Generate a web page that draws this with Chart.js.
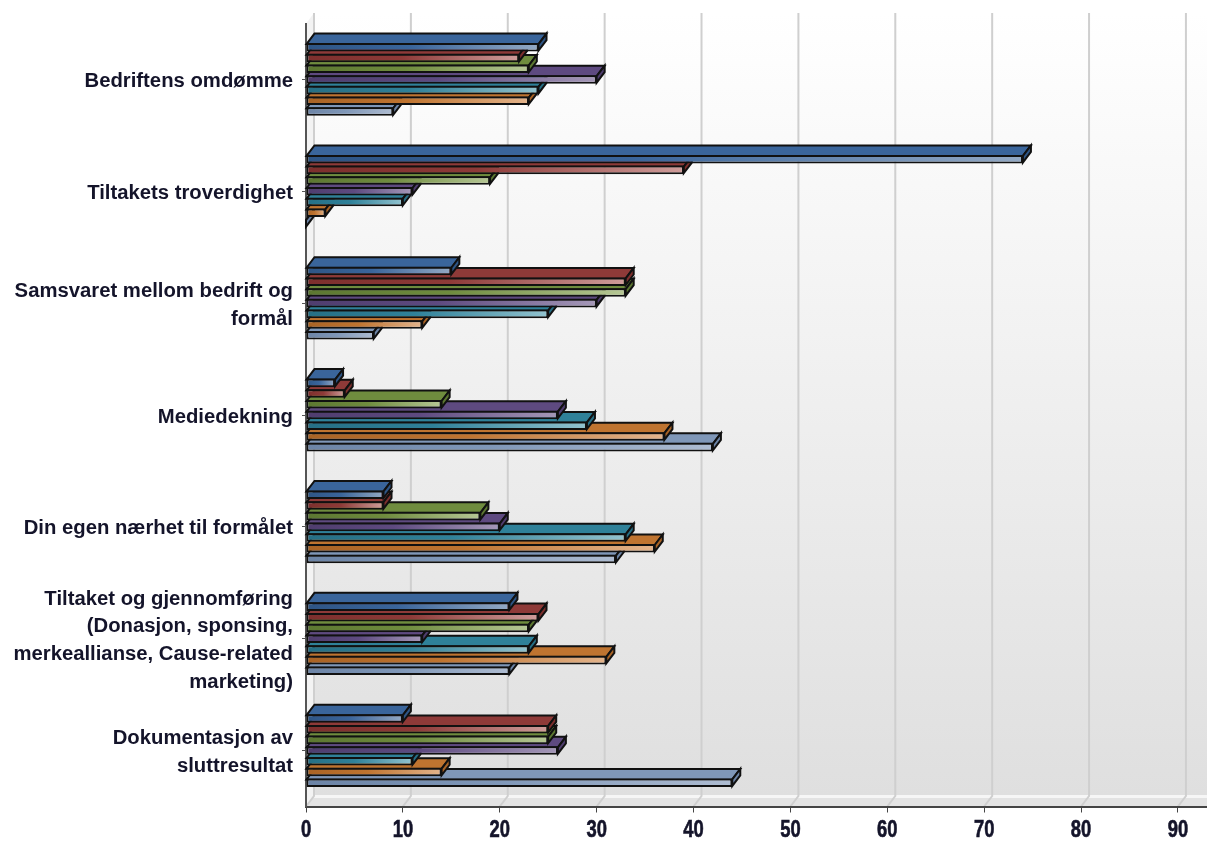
<!DOCTYPE html>
<html>
<head>
<meta charset="utf-8">
<title>Bedriftens omdømme</title>
<script src="https://cdn.jsdelivr.net/npm/chart.js@4/dist/chart.umd.js"></script>
<style>
  html, body { margin: 0; padding: 0; background: #fff; }
  canvas { display: block; }
</style>
</head>
<body>
<canvas id="chart" width="1207" height="841"></canvas>
<script>
const categories = [
    'Bedriftens omdømme',
    'Tiltakets troverdighet',
    ['Samsvaret mellom bedrift og', 'formål'],
    'Mediedekning',
    'Din egen nærhet til formålet',
    ['Tiltaket og gjennomføring', '(Donasjon, sponsing,', 'merkeallianse, Cause-related', 'marketing)'],
    ['Dokumentasjon av', 'sluttresultat'],
];

const serie1 = [24, 74, 15, 3, 8, 21, 10];
const serie2 = [22, 39, 33, 4, 8, 24, 25];
const serie3 = [23, 19, 33, 14, 18, 23, 25];
const serie4 = [30, 11, 30, 26, 20, 12, 26];
const serie5 = [24, 10, 25, 29, 33, 23, 11];
const serie6 = [23, 2, 12, 37, 36, 31, 14];
const serie7 = [9, 0, 7, 42, 32, 21, 44];

const allSeries = [serie1, serie2, serie3, serie4, serie5, serie6, serie7];
const faceColors = ['#3a659b', '#8e3a38', '#6f8c3e', '#5e4a80', '#2f8199', '#bf7430', '#7f97b8'];
const darkColors = ['#2e5585', '#7d2f2d', '#5c7731', '#4f3d6e', '#266f85', '#a96325', '#6c84a6'];
const lightColors = ['#93a9c4', '#cf9d9b', '#b6c795', '#a598b8', '#92c3cf', '#e3b48c', '#aebcd1'];

// depth of the fake 3d box, in px
const DEPTH_X = 8;
const DEPTH_Y = 10.5;

// area sizes that the axes are forced to
const AXIS_LEFT = 306;
const AXIS_BOTTOM = 34.5;
const TOP_PAD = 23.5;

const walls = {
    id: 'walls',
    beforeDraw(chart) {
        const { ctx, chartArea: a, scales: { x } } = chart;
        const backTop = a.top - DEPTH_Y;
        const backBottom = a.bottom - DEPTH_Y;
        const backLeft = a.left + DEPTH_X;
        ctx.save();

        const wall = ctx.createLinearGradient(0, backTop, 0, backBottom);
        wall.addColorStop(0, '#ffffff');
        wall.addColorStop(1, '#dfdfdf');
        ctx.fillStyle = wall;
        ctx.fillRect(backLeft, backTop, a.right - backLeft, backBottom - backTop);

        // left side wall
        ctx.fillStyle = '#f3f3f3';
        ctx.beginPath();
        ctx.moveTo(a.left, a.top);
        ctx.lineTo(backLeft, backTop);
        ctx.lineTo(backLeft, backBottom);
        ctx.lineTo(a.left, a.bottom);
        ctx.closePath();
        ctx.fill();

        // floor
        ctx.fillStyle = '#e3e3e3';
        ctx.beginPath();
        ctx.moveTo(a.left, a.bottom);
        ctx.lineTo(backLeft, backBottom);
        ctx.lineTo(a.right, backBottom);
        ctx.lineTo(a.right, a.bottom);
        ctx.closePath();
        ctx.fill();
        ctx.fillStyle = '#f6f6f6';
        ctx.fillRect(backLeft, backBottom - 1, a.right - backLeft, 3);

        // grid runs up the back wall and slants across the floor
        ctx.strokeStyle = '#cfcfcf';
        ctx.lineWidth = 2;
        x.ticks.forEach(t => {
            const px = x.getPixelForValue(t.value);
            ctx.beginPath();
            ctx.moveTo(px + DEPTH_X, backTop);
            ctx.lineTo(px + DEPTH_X, backBottom);
            ctx.lineTo(px, a.bottom);
            ctx.stroke();
        });
        ctx.restore();
    },
};

// top and right faces go under each bar's front
const barFaces = {
    id: 'barFaces',
    beforeDatasetDraw(chart, args) {
        const { ctx } = chart;
        const i = args.index;
        ctx.save();
        ctx.strokeStyle = '#111';
        ctx.lineWidth = 2;
        ctx.lineJoin = 'miter';
        args.meta.data.forEach(el => {
            const p = el.getProps(['x', 'y', 'base', 'height'], true);
            const top = p.y - p.height / 2 + 1;
            const bottom = p.y + p.height / 2 - 1;

            ctx.fillStyle = faceColors[i];
            ctx.beginPath();
            ctx.moveTo(p.base, top);
            ctx.lineTo(p.base + DEPTH_X, top - DEPTH_Y);
            ctx.lineTo(p.x + DEPTH_X, top - DEPTH_Y);
            ctx.lineTo(p.x, top);
            ctx.closePath();
            ctx.fill();
            ctx.stroke();

            ctx.fillStyle = darkColors[i];
            ctx.beginPath();
            ctx.moveTo(p.x, top);
            ctx.lineTo(p.x + DEPTH_X, top - DEPTH_Y);
            ctx.lineTo(p.x + DEPTH_X, bottom - DEPTH_Y);
            ctx.lineTo(p.x, bottom);
            ctx.closePath();
            ctx.fill();
            ctx.stroke();
        });
        ctx.restore();
    },
};

// value labels are squeezed horizontally, which the built-in ticks can't do
const xLabels = {
    id: 'xLabels',
    afterDraw(chart) {
        const { ctx, scales: { x } } = chart;
        ctx.save();
        ctx.fillStyle = '#14142a';
        ctx.strokeStyle = '#14142a';
        ctx.lineWidth = 0.6;
        ctx.font = 'bold 23px "Liberation Sans"';
        ctx.textAlign = 'center';
        ctx.textBaseline = 'middle';
        x.ticks.forEach(t => {
            ctx.save();
            ctx.translate(x.getPixelForValue(t.value), 831);
            ctx.scale(0.8, 1);
            ctx.fillText(String(t.value), 0, 0);
            ctx.strokeText(String(t.value), 0, 0);
            ctx.restore();
        });
        ctx.restore();
    },
};

const frontGradient = (c, i) => {
    const x = c.chart.scales.x;
    const left = x.getPixelForValue(0);
    const right = x.getPixelForValue(allSeries[i][c.dataIndex]);
    // scales have no size yet on the very first resolve
    if (!isFinite(left) || !isFinite(right) || right <= left) return darkColors[i];
    const g = c.chart.ctx.createLinearGradient(left, 0, right, 0);
    g.addColorStop(0, darkColors[i]);
    g.addColorStop(0.45, faceColors[i]);
    g.addColorStop(1, lightColors[i]);
    return g;
};

new Chart(document.getElementById('chart'), {
    type: 'bar',
    plugins: [walls, barFaces, xLabels],
    data: {
        labels: categories,
        datasets: allSeries.map((values, i) => ({
            label: 'Serie ' + (i + 1),
            data: values,
            backgroundColor: c => frontGradient(c, i),
            borderColor: '#111',
            borderWidth: 2,
            borderSkipped: false,
            categoryPercentage: 0.67,
            barPercentage: 0.8,
        })),
    },
    options: {
        indexAxis: 'y',
        responsive: false,
        animation: false,
        layout: { padding: { top: TOP_PAD, left: 0, right: 0, bottom: 0 } },
        plugins: { legend: { display: false }, tooltip: { enabled: false } },
        scales: {
            x: {
                min: 0,
                max: 93,
                afterFit(scale) {
                    scale.height = AXIS_BOTTOM;
                    scale.paddingLeft = 0;
                    scale.paddingRight = 0;
                },
                border: { color: '#444', width: 2 },
                grid: { drawOnChartArea: false, color: '#444', tickLength: 6 },
                ticks: { stepSize: 10, includeBounds: false, display: false },
            },
            y: {
                afterFit(scale) {
                    scale.width = AXIS_LEFT;
                    scale.paddingTop = 0;
                    scale.paddingBottom = 0;
                },
                border: { color: '#555', width: 2 },
                grid: { offset: false, drawOnChartArea: false, color: '#555', tickLength: 4 },
                ticks: {
                    padding: 9,
                    labelOffset: 2,
                    autoSkip: false,
                    color: '#14142a',
                    font: { family: '"Liberation Sans"', weight: 'bold', size: 20.3, lineHeight: 1.365 },
                },
            },
        },
    },
});
</script>
</body>
</html>
